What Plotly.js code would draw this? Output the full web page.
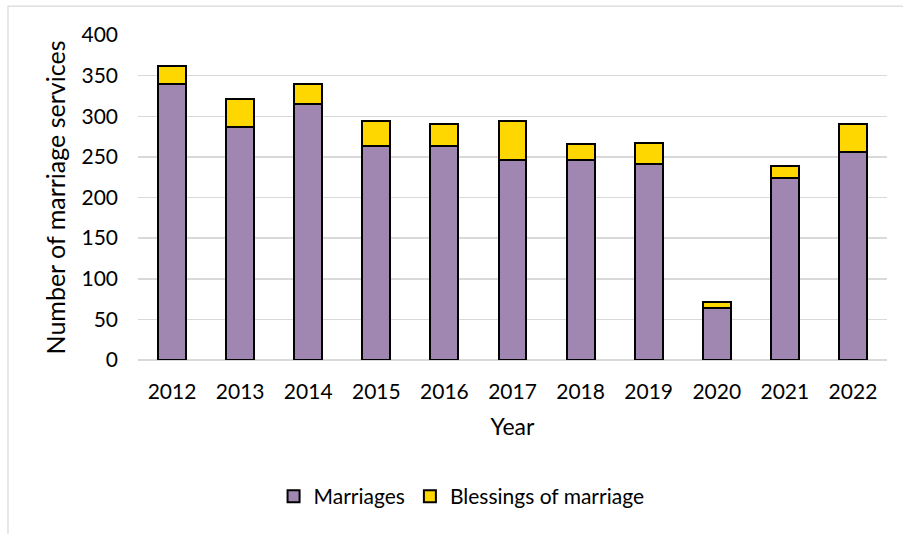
<!DOCTYPE html>
<html>
<head>
<meta charset="utf-8">
<script src="https://cdn.plot.ly/plotly-3.0.1.min.js"></script>
<style>
html,body{margin:0;padding:0;background:#fff;}
#chart{width:903px;height:534px;}
</style>
</head>
<body>
<div id="chart"></div>
<script>
const years = ["2012","2013","2014","2015","2016","2017","2018","2019","2020","2021","2022"];
const marriages = [340, 287, 315, 264, 263, 246, 246, 241, 64, 224, 256];
const blessings = [22, 34, 25, 30, 28, 48, 20, 26, 7, 15, 35];
const yTicks = [0, 50, 100, 150, 200, 250, 300, 350, 400];

const fontFam = "'Gill Sans MT', 'Gill Sans', Lato, 'Open Sans', sans-serif";
const lineStyle = {color: "#000000", width: 2};

const traces = [
  {type: "bar", name: "Marriages", x: years, y: marriages,
   marker: {color: "#9F87B2", line: lineStyle}, hoverinfo: "x+y+name"},
  {type: "bar", name: "Blessings of marriage", x: years, y: blessings,
   marker: {color: "#FFD700", line: lineStyle}, hoverinfo: "x+y+name"}
];

const layout = {
  width: 903, height: 534,
  margin: {l: 138, r: 16, t: 34.5, b: 174},
  paper_bgcolor: "#ffffff", plot_bgcolor: "#ffffff",
  barmode: "stack",
  bargap: 0.59,
  font: {family: fontFam, size: 21, color: "#000000"},
  showlegend: true,
  legend: {orientation: "h", x: 0.432, xanchor: "center", y: -0.42, yanchor: "middle",
           font: {family: fontFam, size: 21, color: "#000000"}, traceorder: "normal",
           itemwidth: 30, bgcolor: "rgba(0,0,0,0)"},
  xaxis: {
    type: "category",
    tickfont: {family: fontFam, size: 21, color: "#000000"},
    ticks: "", showline: false, showgrid: false, zeroline: false,
    ticklabelstandoff: 17,
    title: {text: "Year", font: {family: fontFam, size: 23, color: "#000000"}, standoff: 16}
  },
  yaxis: {
    range: [0, 400],
    tickvals: yTicks,
    ticktext: yTicks.map(String),
    tickfont: {family: fontFam, size: 21, color: "#000000"},
    ticks: "", showline: false,
    showgrid: true, gridcolor: "#D9D9D9", gridwidth: 1.5,
    zeroline: true, zerolinecolor: "#D9D9D9", zerolinewidth: 1.5,
    ticklabelstandoff: 19,
    title: {text: "Number of marriage services", font: {family: fontFam, size: 25, color: "#000000"}, standoff: 8}
  },
  shapes: [{
    type: "rect", xref: "paper", yref: "paper",
    x0: -0.1736, x1: 1.05, y0: -0.7, y1: 1.089,
    line: {color: "#D9D9D9", width: 1.2}, fillcolor: "rgba(0,0,0,0)", layer: "below"
  }]
};

Plotly.newPlot("chart", traces, layout, {displayModeBar: false, staticPlot: true});
</script>
</body>
</html>
